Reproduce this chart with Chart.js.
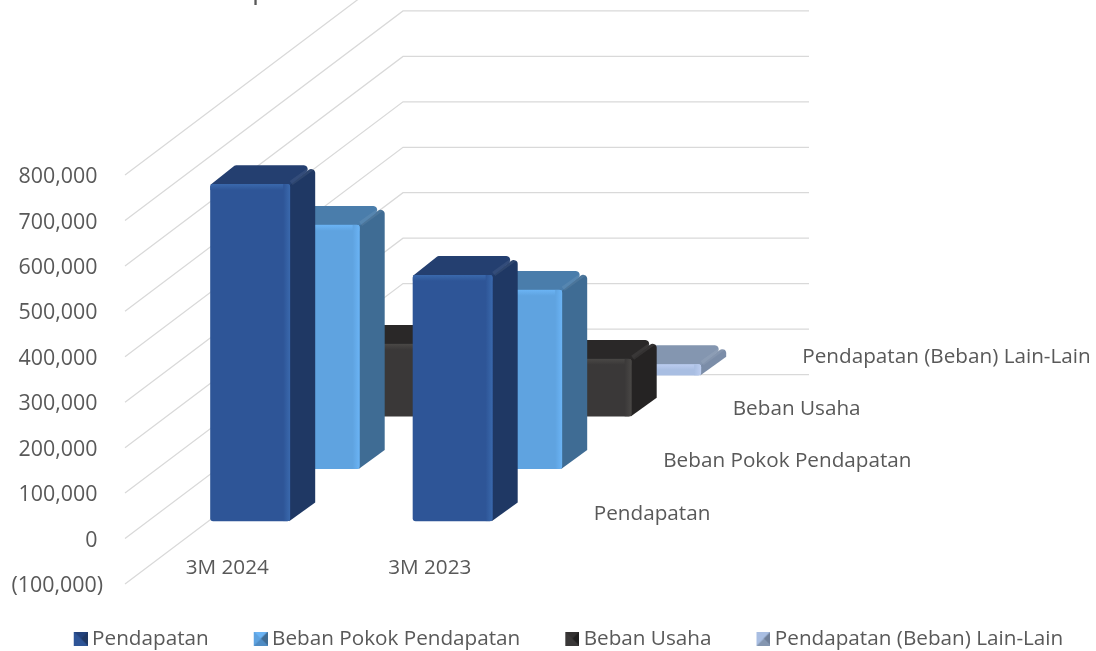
<!DOCTYPE html>
<html>
<head>
<meta charset="utf-8">
<style>
  html, body { margin: 0; padding: 0; background: #fff; }
  canvas { display: block; }
</style>
<script src="https://cdn.jsdelivr.net/npm/chart.js@4/dist/chart.umd.min.js"></script>
</head>
<body>
<canvas id="chart" width="1096" height="651"></canvas>
<script>
var categories = ['3M 2024', '3M 2023'];
var seriesNames = ['Pendapatan', 'Beban Pokok Pendapatan', 'Beban Usaha', 'Pendapatan (Beban) Lain-Lain'];
var pendapatan = [742000, 542000];
var bebanPokok = [537000, 394000];
var bebanUsaha = [160000, 127000];
var lainLain = [-20000, -25000];
var seriesValues = [pendapatan, bebanPokok, bebanUsaha, lainLain];

// front, top, side, highlight for each series
var faceColors = [
    ['#2e5597', '#243f70', '#1f3864', '#3a69ad'],
    ['#5fa3e0', '#4a7dab', '#3f6c94', '#6bb4f5'],
    ['#3a3838', '#2a2828', '#252323', '#4a4846'],
    ['#a9bee2', '#8496b0', '#7b8da8', '#bccdf0']
];
// legend pyramid shades: top, left, bottom, right
var markerColors = [
    ['#23427c', '#2e5597', '#2e5597', '#1f3864'],
    ['#6bb4f5', '#5fa3e0', '#4f8cc4', '#3f6c94'],
    ['#333131', '#3a3838', '#3a3838', '#1f1e1e'],
    ['#a9bee2', '#a9bee2', '#8496b0', '#6f7f99']
];

var textColor = '#595959';
var gridColor = '#d9d9d9';
var fontFamily = '"Open Sans", sans-serif';
var depthX = 278, depthY = 209.5; // full floor depth on screen

function fmtTick(v) {
    if (v < 0) return '(' + Math.abs(v).toLocaleString('en-US') + ')';
    return v.toLocaleString('en-US') + ' ';
}

function legendMarker(colors) {
    var c = document.createElement('canvas');
    c.width = 22; c.height = 14;
    var g = c.getContext('2d');
    var corners = [[8, 0], [22, 0], [22, 14], [8, 14]];
    g.fillStyle = colors[1];
    g.fillRect(8, 0, 14, 14);
    [0, 3, 2, 1].forEach(function (side, k) {
        var a = corners[k], b = corners[(k + 1) % 4];
        g.fillStyle = colors[side];
        g.beginPath();
        g.moveTo(a[0], a[1]); g.lineTo(b[0], b[1]); g.lineTo(15, 7);
        g.closePath();
        g.fill();
    });
    return c;
}

// polygon with rounded corners, radii given per point
function roundPoly(ctx, color, pts, radii) {
    var n = pts.length;
    var last = pts[n - 1], first = pts[0];
    ctx.fillStyle = color;
    ctx.beginPath();
    ctx.moveTo((last[0] + first[0]) / 2, (last[1] + first[1]) / 2);
    pts.forEach(function (p, i) {
        var next = pts[(i + 1) % n];
        ctx.arcTo(p[0], p[1], next[0], next[1], radii[i]);
    });
    ctx.closePath();
    ctx.fill();
}

function drawCuboid(ctx, x, w, top, bottom, near, far, c) {
    var x0 = x - w / 2 + near * depthX, x1 = x0 + w;
    var yT = top - near * depthY, yB = bottom - near * depthY;
    var dx = (far - near) * depthX, dy = (far - near) * depthY;
    var h = yB - yT;
    var r = Math.min(3, h / 2);

    roundPoly(ctx, c[2], [[x1 - 1, yT], [x1 + dx, yT - dy], [x1 + dx, yB - dy], [x1 - 1, yB]], [0, 4, 0, 0]);
    roundPoly(ctx, c[1], [[x0, yT + 1], [x0 + dx, yT - dy], [x1 + dx, yT - dy], [x1, yT + 1]], [0, 3, 4, 0]);

    // lighter diagonal where the top meets the side
    ctx.strokeStyle = 'rgba(255,255,255,0.07)';
    ctx.lineWidth = 5;
    ctx.beginPath();
    ctx.moveTo(x1 + 1, yT - 1);
    ctx.lineTo(x1 + dx - 2, yT - dy + 2);
    ctx.stroke();

    ctx.fillStyle = c[0];
    ctx.beginPath();
    ctx.roundRect(x0, yT, w, h, r);
    ctx.fill();

    // bevel along the top and right edge of the front face
    var bevel = Math.min(6, h / 2);
    ctx.save();
    ctx.beginPath();
    ctx.roundRect(x0, yT, w, h, r);
    ctx.clip();
    var g = ctx.createLinearGradient(0, yT, 0, yT + bevel);
    g.addColorStop(0, c[3]); g.addColorStop(1, c[0]);
    ctx.fillStyle = g;
    ctx.fillRect(x0, yT, w, bevel);
    g = ctx.createLinearGradient(x1 - 7, 0, x1, 0);
    g.addColorStop(0, c[0]); g.addColorStop(1, c[3]);
    ctx.fillStyle = g;
    ctx.fillRect(x1 - 7, yT, 7, h);
    ctx.restore();
}

var bars3d = {
    id: 'bars3d',
    beforeDatasetsDraw: function (chart) {
        var ctx = chart.ctx, area = chart.chartArea;
        ctx.save();
        ctx.strokeStyle = gridColor;
        ctx.lineWidth = 1.25;
        chart.scales.y.ticks.forEach(function (t) {
            var y = chart.scales.y.getPixelForValue(t.value);
            ctx.beginPath();
            ctx.moveTo(area.left - 1, y);
            ctx.lineTo(area.left + depthX - 1, y - depthY);
            ctx.lineTo(area.right + depthX, y - depthY);
            ctx.stroke();
        });
        ctx.restore();
    },
    afterDatasetsDraw: function (chart) {
        var ctx = chart.ctx, area = chart.chartArea;
        var n = seriesNames.length;
        ctx.save();
        for (var i = n - 1; i >= 0; i--) {
            var meta = chart.getDatasetMeta(i);
            meta.data.forEach(function (el) {
                drawCuboid(ctx, el.x, el.width, Math.min(el.y, el.base), Math.max(el.y, el.base),
                    (i + 0.33) / n, (i + 0.69) / n, faceColors[i]);
            });
        }
        // series axis running into the depth
        ctx.fillStyle = textColor;
        ctx.font = '20.7px ' + fontFamily;
        ctx.textBaseline = 'middle';
        seriesNames.forEach(function (name, i) {
            var d = (i + 0.5) / n;
            ctx.fillText(name, area.right + d * depthX + 28, area.bottom - d * depthY - 44);
        });
        // only the tail of the title's p is left inside the picture
        ctx.font = '28px ' + fontFamily;
        ctx.textBaseline = 'alphabetic';
        ctx.fillText('p', 252, -2);
        ctx.restore();
    }
};

new Chart(document.getElementById('chart'), {
    type: 'bar',
    plugins: [bars3d],
    data: {
        labels: categories,
        datasets: seriesValues.map(function (vals, i) {
            return { label: seriesNames[i], data: vals, backgroundColor: 'rgba(0,0,0,0)',
                     barPercentage: 0.395, categoryPercentage: 1, grouped: false };
        })
    },
    options: {
        responsive: false,
        animation: false,
        layout: { padding: { left: 0, right: -39, top: 175, bottom: -8 } },
        plugins: {
            tooltip: { enabled: false },
            legend: {
                position: 'bottom',
                labels: {
                    usePointStyle: true,
                    boxWidth: 10,
                    padding: 43,
                    color: textColor,
                    font: { family: fontFamily, size: 20.7 },
                    generateLabels: function (chart) {
                        return seriesNames.map(function (name, i) {
                            return { text: name, datasetIndex: i, fontColor: textColor, lineWidth: 0,
                                     pointStyle: legendMarker(markerColors[i]) };
                        });
                    }
                }
            }
        },
        scales: {
            x: {
                grid: { display: false, drawTicks: false },
                border: { display: false },
                ticks: { mirror: true, padding: 3, color: textColor, font: { family: fontFamily, size: 20.7 } },
                afterFit: function (s) { s.height = 1.3; }
            },
            y: {
                min: -100000, max: 800000,
                grid: { display: false, drawTicks: false },
                border: { display: false },
                ticks: { stepSize: 100000, autoSkip: false, padding: 23, labelOffset: 2, color: textColor,
                         font: { family: fontFamily, size: 21.4 }, callback: fmtTick },
                afterFit: function (s) { s.width = 126; }
            },
            y2: {
                position: 'right',
                grid: { display: false, drawTicks: false },
                border: { display: false },
                ticks: { display: false },
                afterFit: function (s) { s.width = 604; }
            }
        }
    }
});
</script>
</body>
</html>
